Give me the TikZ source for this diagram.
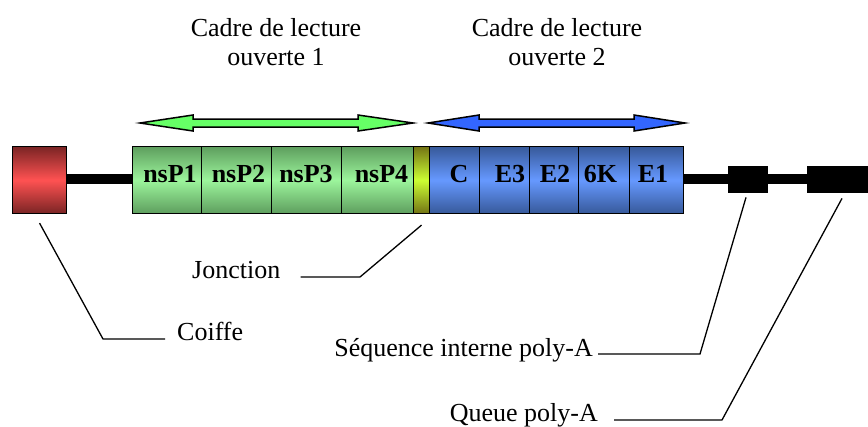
\documentclass[tikz,border=0pt]{standalone}
\usepackage{fontspec}
\setmainfont{Liberation Serif}
\definecolor{capdark}{HTML}{7A2424}
\definecolor{caplight}{HTML}{FF5252}
\definecolor{nsdark}{HTML}{5E9E5E}
\definecolor{nslight}{HTML}{9CF59C}
\definecolor{sdark}{HTML}{37599A}
\definecolor{slight}{HTML}{6699FF}
\definecolor{jdark}{HTML}{737314}
\definecolor{jlight}{HTML}{CCFF33}
\definecolor{orfgreen}{HTML}{66FF66}
\definecolor{orfblue}{HTML}{3366FF}
\begin{document}
\begin{tikzpicture}[x=1pt,y=-1pt,
  font=\fontsize{26}{29}\selectfont,
  seg/.style={draw=black, line width=1.1pt, inner sep=0pt, minimum height=67pt, anchor=north west},
  capbox/.style={seg, top color=capdark, bottom color=capdark, middle color=caplight},
  nsbox/.style={seg, top color=nsdark, bottom color=nsdark, middle color=nslight},
  sbox/.style={seg, top color=sdark, bottom color=sdark, middle color=slight},
  jbox/.style={seg, top color=jdark, bottom color=jdark, middle color=jlight},
  polyabox/.style={draw=black, line width=0.8pt, fill=black, inner sep=0pt, minimum height=26pt},
  segtxt/.style={anchor=base, inner sep=0pt, font=\fontsize{26}{29}\selectfont\bfseries},
  lbl/.style={inner sep=0pt},
  title/.style={anchor=north, align=center, inner sep=0pt},
  backbone/.style={line width=10pt, black},
  leader/.style={line width=1.3pt, black},
  orfarrow/.style={draw=black, line width=1.5pt, line join=miter}
]
\useasboundingbox (0,0) rectangle (868,426);
\fill[white] (0,0) rectangle (868,426);

% reading frame titles
\node[title] (orf1) at (276,18) {Cadre de lecture\\ouverte 1};
\node[title] (orf2) at (557,18) {Cadre de lecture\\ouverte 2};

% double-headed arrows spanning each reading frame
\draw[orfarrow, fill=orfgreen] (140,123) -- (193,115) -- (193,119) -- (358,119) -- (358,115)
  -- (413,123) -- (358,131) -- (358,127) -- (193,127) -- (193,131) -- cycle;
\draw[orfarrow, fill=orfblue] (428,123) -- (479,115) -- (479,119) -- (634,119) -- (634,115)
  -- (685,123) -- (634,131) -- (634,127) -- (479,127) -- (479,131) -- cycle;

% cap
\node[capbox, minimum width=54pt] (cap) at (12,146) {};

% non-structural proteins
\node[nsbox, minimum width=69pt] (nsp1) at (132,146) {};
\node[nsbox, minimum width=70pt] (nsp2) at (201,146) {};
\node[nsbox, minimum width=70pt] (nsp3) at (271,146) {};
\node[nsbox, minimum width=72pt] (nsp4) at (341,146) {};
% junction
\node[jbox, minimum width=16pt] (junc) at (413,146) {};
% structural proteins
\node[sbox, minimum width=50pt] (sc) at (429,146) {};
\node[sbox, minimum width=50pt] (se3) at (479,146) {};
\node[sbox, minimum width=49pt] (se2) at (529,146) {};
\node[sbox, minimum width=51pt] (s6k) at (578,146) {};
\node[sbox, minimum width=54pt] (se1) at (629,146) {};

% segment labels
\node[segtxt] (tnsp1) at (170,182) {nsP1};
\node[segtxt] (tnsp2) at (238.5,182) {nsP2};
\node[segtxt] (tnsp3) at (306,182) {nsP3};
\node[segtxt] (tnsp4) at (381.5,182) {nsP4};
\node[segtxt] (tc) at (459,182) {C};
\node[segtxt] (te3) at (510,182) {E3};
\node[segtxt] (te2) at (555,182) {E2};
\node[segtxt] (t6k) at (600.5,182) {6K};
\node[segtxt] (te1) at (653,182) {E1};

% poly-A boxes
\node[polyabox, minimum width=39pt] (pa1) at (747.5,179) {};
\node[polyabox, minimum width=61pt] (pa2) at (837.5,179) {};

% RNA backbone
\draw[backbone] (cap.east |- 0,179) -- (nsp1.west |- 0,179);
\draw[backbone] (se1.east |- 0,179) -- (pa1.west);
\draw[backbone] (pa1.east) -- (pa2.west);

% annotation labels
\node[lbl, anchor=base west] (coiffe) at (177,340) {Coiffe};
\node[lbl, anchor=base west] (jonction) at (192,278) {Jonction};
\node[lbl, anchor=base east] (seqint) at (593,356) {Séquence interne poly-A};
\node[lbl, anchor=base east] (queue) at (598,421) {Queue poly-A};

% leader lines
\coordinate (cbend) at (103,339);
\coordinate (jbend) at (360,277);
\coordinate (sbend) at (700,354);
\coordinate (qbend) at (722,420);
\draw[leader] ([yshift=-9pt]cap.south) -- (cbend) -- ([xshift=-12pt,yshift=1pt]coiffe.base west);
\draw[leader] ([yshift=-11pt]junc.south) -- (jbend) -- ([xshift=20pt,yshift=1pt]jonction.base east);
\draw[leader] ([xshift=-1.5pt,yshift=-5pt]pa1.south) -- (sbend) -- ([xshift=5pt,yshift=2pt]seqint.base east);
\draw[leader] ([xshift=4.5pt,yshift=-6pt]pa2.south) -- (qbend) -- ([xshift=16pt,yshift=1pt]queue.base east);
\end{tikzpicture}
\end{document}
